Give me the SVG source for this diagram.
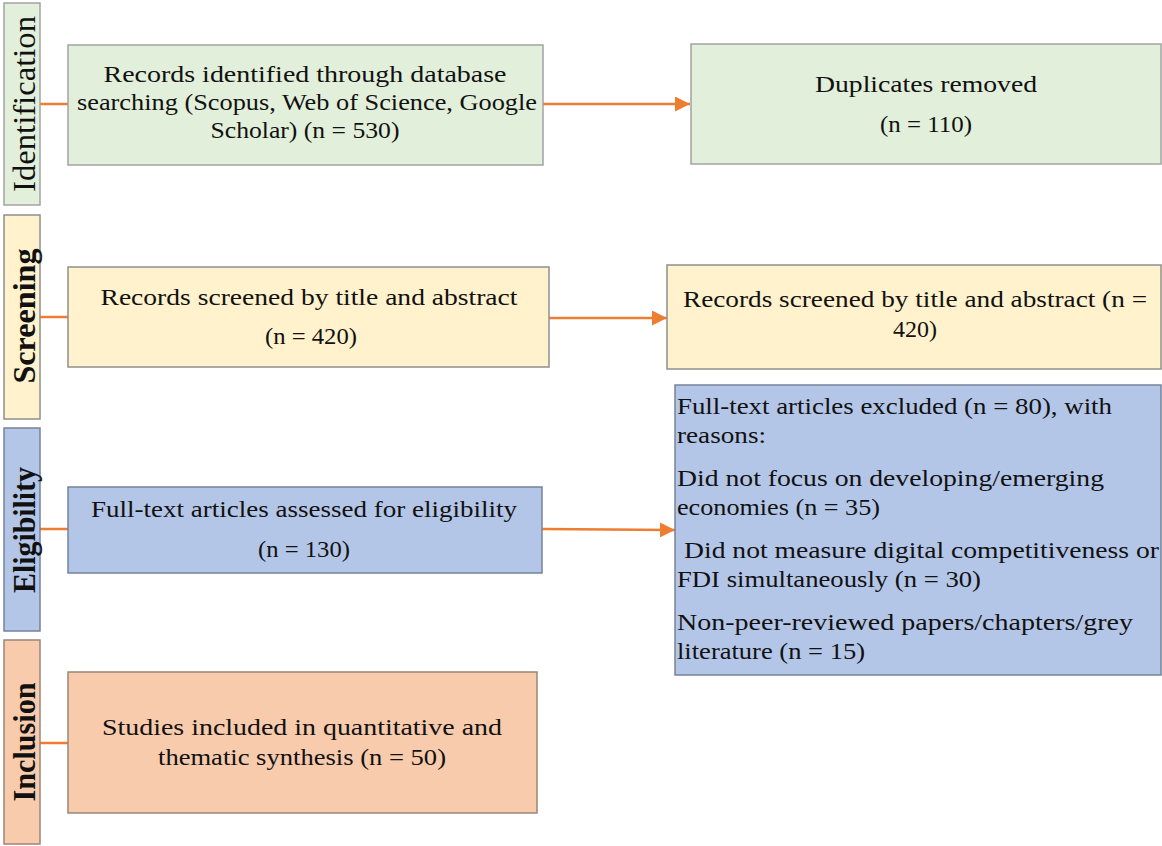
<svg xmlns="http://www.w3.org/2000/svg" width="1162" height="846" viewBox="0 0 1162 846">
<style>
text{font-family:"Liberation Serif","Times New Roman",serif;fill:#111}
.t{font-size:23px;text-anchor:middle}
.l{font-size:23px}
.lab{font-size:31px;text-anchor:middle}
.b{font-weight:bold}
.g{fill:#e2efda;stroke:#a3a3a3;stroke-width:1.5}
.y{fill:#fff2cc;stroke:#8f8f8f;stroke-width:1.5}
.bl{fill:#b4c6e7;stroke:#75839b;stroke-width:1.5}
.o{fill:#f8cbad;stroke:#9a8678;stroke-width:1.5}
.c{stroke:#ed7d31;stroke-width:2.5;fill:none}
</style>
<defs>
<marker id="ah" viewBox="0 0 10 10" refX="10" refY="5" markerWidth="6" markerHeight="6" markerUnits="strokeWidth" orient="auto">
<path d="M0,0 L10,5 L0,10 z" fill="#ed7d31"/>
</marker>
</defs>
<g id="connectors">
<line class="c" x1="40" y1="104" x2="68" y2="104"/>
<line class="c" x1="40" y1="317" x2="68" y2="317"/>
<line class="c" x1="40" y1="529" x2="68" y2="529"/>
<line class="c" x1="40" y1="743" x2="68" y2="743"/>
<line class="c" x1="543" y1="104" x2="690" y2="104" marker-end="url(#ah)"/>
<line class="c" x1="549" y1="318" x2="667" y2="318" marker-end="url(#ah)"/>
<line class="c" x1="542" y1="529" x2="675" y2="530" marker-end="url(#ah)"/>
</g>
<g id="label-identification">
<rect class="g" x="4" y="3" width="36" height="202"/>
<text class="lab" transform="translate(35,104) rotate(-90)" textLength="176" lengthAdjust="spacingAndGlyphs">Identification</text>
</g>
<g id="label-screening">
<rect class="y" x="4" y="215" width="36" height="204"/>
<text class="lab b" transform="translate(35,316) rotate(-90)" textLength="135" lengthAdjust="spacingAndGlyphs">Screening</text>
</g>
<g id="label-eligibility">
<rect class="bl" x="4" y="428" width="36" height="203"/>
<text class="lab b" transform="translate(35,530) rotate(-90)" textLength="126" lengthAdjust="spacingAndGlyphs">Eligibility</text>
</g>
<g id="label-inclusion">
<rect class="o" x="4" y="640" width="36" height="204"/>
<text class="lab b" transform="translate(35,742) rotate(-90)" textLength="119" lengthAdjust="spacingAndGlyphs">Inclusion</text>
</g>
<g id="records-identified">
<rect class="g" x="68" y="45" width="475" height="120"/>
<text class="t" x="305" y="82" textLength="403" lengthAdjust="spacingAndGlyphs">Records identified through database</text>
<text class="t" x="307" y="110" textLength="460" lengthAdjust="spacingAndGlyphs">searching (Scopus, Web of Science, Google</text>
<text class="t" x="305" y="138" textLength="189" lengthAdjust="spacingAndGlyphs">Scholar) (n = 530)</text>
</g>
<g id="duplicates">
<rect class="g" x="691" y="44" width="470" height="120"/>
<text class="t" x="926" y="92" textLength="222" lengthAdjust="spacingAndGlyphs">Duplicates removed</text>
<text class="t" x="926" y="132" textLength="92" lengthAdjust="spacingAndGlyphs">(n = 110)</text>
</g>
<g id="screened">
<rect class="y" x="68" y="267" width="481" height="100"/>
<text class="t" x="309" y="305" textLength="417" lengthAdjust="spacingAndGlyphs">Records screened by title and abstract</text>
<text class="t" x="311" y="344" textLength="92" lengthAdjust="spacingAndGlyphs">(n = 420)</text>
</g>
<g id="screened-right">
<rect class="y" x="667" y="265" width="494" height="104"/>
<text class="t" x="915" y="307" textLength="464" lengthAdjust="spacingAndGlyphs">Records screened by title and abstract (n =</text>
<text class="t" x="915" y="337" textLength="44" lengthAdjust="spacingAndGlyphs">420)</text>
</g>
<g id="eligibility">
<rect class="bl" x="68" y="487" width="474" height="86"/>
<text class="t" x="304" y="517" textLength="426" lengthAdjust="spacingAndGlyphs">Full-text articles assessed for eligibility</text>
<text class="t" x="304" y="557" textLength="92" lengthAdjust="spacingAndGlyphs">(n = 130)</text>
</g>
<g id="excluded">
<rect class="bl" x="675" y="385" width="486" height="290"/>
<text class="l" x="677" y="414" textLength="435" lengthAdjust="spacingAndGlyphs">Full-text articles excluded (n = 80), with</text>
<text class="l" x="677" y="443" textLength="89" lengthAdjust="spacingAndGlyphs">reasons:</text>
<text class="l" x="677" y="486" textLength="427" lengthAdjust="spacingAndGlyphs">Did not focus on developing/emerging</text>
<text class="l" x="677" y="515" textLength="203" lengthAdjust="spacingAndGlyphs">economies (n = 35)</text>
<text class="l" x="684" y="558" textLength="475" lengthAdjust="spacingAndGlyphs">Did not measure digital competitiveness or</text>
<text class="l" x="677" y="587" textLength="304" lengthAdjust="spacingAndGlyphs">FDI simultaneously (n = 30)</text>
<text class="l" x="677" y="630" textLength="456" lengthAdjust="spacingAndGlyphs">Non-peer-reviewed papers/chapters/grey</text>
<text class="l" x="677" y="659" textLength="188" lengthAdjust="spacingAndGlyphs">literature (n = 15)</text>
</g>
<g id="included">
<rect class="o" x="68" y="672" width="469" height="141"/>
<text class="t" x="302" y="735" textLength="400" lengthAdjust="spacingAndGlyphs">Studies included in quantitative and</text>
<text class="t" x="302" y="765" textLength="288" lengthAdjust="spacingAndGlyphs">thematic synthesis (n = 50)</text>
</g>
</svg>
